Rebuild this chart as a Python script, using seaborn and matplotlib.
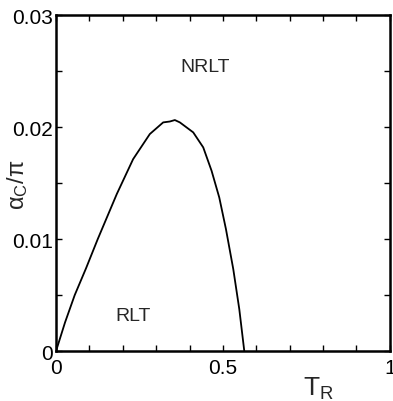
import numpy as np
import pandas as pd
import matplotlib
matplotlib.use("Agg")
import matplotlib.pyplot as plt
import seaborn as sns

# boundary curve
t_r = [0.0, 0.027, 0.056, 0.090, 0.125, 0.182, 0.231, 0.281, 0.321,
       0.341, 0.356, 0.371, 0.411, 0.441, 0.466, 0.489, 0.509, 0.531, 0.549, 0.564]
alpha_c = [0.0, 0.00256, 0.0050, 0.0074, 0.0100, 0.01402, 0.01714, 0.01938, 0.02042,
           0.0205, 0.02063, 0.02042, 0.01953, 0.01819, 0.0161, 0.01372, 0.0109, 0.00732, 0.00375, 0.0]

x_ticks = [0, 0.5, 1]
x_labels = ["0", "0.5", "1"]
y_ticks = [0, 0.01, 0.02, 0.03]
y_labels = ["0", "0.01", "0.02", "0.03"]

df = pd.DataFrame({"T_R": t_r, "alpha": alpha_c})

sns.set_theme(style="ticks")
plt.rcParams['font.family'] = ['Liberation Sans', 'DejaVu Sans']

fig = plt.figure(figsize=(3.93, 4.02), dpi=100)
ax = fig.add_axes([0.1425, 0.124, 0.8495, 0.836])

sns.lineplot(data=df, x="T_R", y="alpha", color="black", linewidth=1.3, sort=False, ax=ax)

ax.set_xlim(0, 1)
ax.set_ylim(0, 0.03)
ax.set_xticks(x_ticks)
ax.set_xticklabels(x_labels)
ax.set_yticks(y_ticks)
ax.set_yticklabels(y_labels)
ax.set_xticks(np.arange(0, 1.01, 0.1), minor=True)
ax.set_yticks(np.arange(0, 0.0301, 0.005), minor=True)
ax.tick_params(which="both", direction="in", top=True, right=True, width=1, color="black")
ax.tick_params(which="major", length=4, labelsize=15, labelcolor="black")
ax.tick_params(axis="x", which="major", pad=5)
ax.tick_params(axis="y", which="major", pad=2)
ax.tick_params(which="minor", length=4)
for s in ax.spines.values():
    s.set_linewidth(1.8)
    s.set_color("black")

ax.set_xlabel("")
ax.set_ylabel("")
fig.text(0.81, 0.0, r"T$_\mathregular{R}$", fontsize=19, ha="center", va="bottom")
fig.text(0.045, 0.54, r"$\mathregular{\alpha_C/\pi}$", fontsize=17, rotation=90,
         ha="center", va="center")

ax.text(0.446, 0.0254, "NRLT", fontsize=14, ha="center", va="center")
ax.text(0.231, 0.0032, "RLT", fontsize=14, ha="center", va="center")

fig.savefig("out.png", dpi=100)
